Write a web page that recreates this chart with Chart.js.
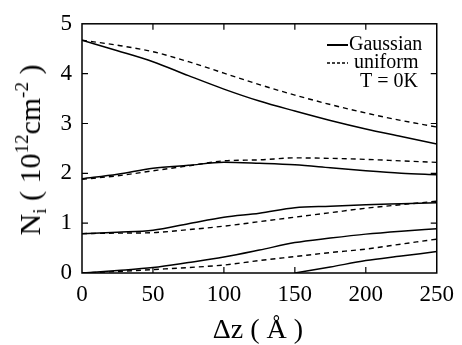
<!DOCTYPE html>
<html>
<head>
<meta charset="utf-8">
<script src="https://cdn.jsdelivr.net/npm/chart.js@4/dist/chart.umd.min.js"></script>
<style>
  html, body { margin: 0; padding: 0; background: #fff; }
  #wrap { position: relative; width: 462px; height: 345px; }
  canvas { display: block; }
  .lbl { position: absolute; font-family: "Liberation Serif", serif; color: #000; white-space: nowrap; }
  #xt { left: 158px; top: 315px; width: 200px; text-align: center; font-size: 28px; line-height: 28px; }
  #yt { left: 30px; top: 150px; font-size: 30px; line-height: 30px; transform: translate(-50%, -50%) rotate(-90deg); }
  #yt sub, #yt sup { font-size: 19px; line-height: 0; }
  #yt sub { vertical-align: -6px; }
  #yt sup { vertical-align: 12px; }
</style>
</head>
<body>
<div id="wrap">
  <canvas id="plot" width="462" height="345"></canvas>
  <div class="lbl" id="yt">N<sub>i</sub> ( 10<sup>12</sup>cm<sup>-2</sup> )</div>
  <div class="lbl" id="xt">&Delta;z ( &Aring; )</div>
</div>
<script>
// delta z in angstrom
const dz = [0, 25, 50, 75, 100, 125, 150, 175, 200, 225, 250];

// subband densities, 10^12 cm^-2
const gauss1 = [4.67, 4.46, 4.24, 3.96, 3.69, 3.45, 3.25, 3.06, 2.89, 2.74, 2.59];
const unif1  = [4.67, 4.57, 4.44, 4.24, 4.01, 3.78, 3.57, 3.38, 3.21, 3.06, 2.93];
const gauss2 = [1.89, 1.98, 2.10, 2.16, 2.22, 2.20, 2.17, 2.11, 2.05, 2.00, 1.97];
const unif2  = [1.88, 1.95, 2.05, 2.15, 2.25, 2.27, 2.31, 2.30, 2.28, 2.25, 2.22];
const gauss3 = [0.79, 0.82, 0.86, 0.99, 1.12, 1.20, 1.31, 1.34, 1.37, 1.39, 1.41];
const unif3  = [0.79, 0.80, 0.81, 0.87, 0.94, 1.03, 1.12, 1.21, 1.30, 1.37, 1.44];
const gauss4 = [0.00, 0.05, 0.11, 0.21, 0.32, 0.46, 0.61, 0.70, 0.78, 0.84, 0.89];
const unif4  = [0.00, 0.03, 0.07, 0.11, 0.16, 0.25, 0.33, 0.41, 0.48, 0.58, 0.68];
const gauss5 = [null, null, null, null, null, null, 0.00, 0.12, 0.25, 0.34, 0.43];

const xTicks = [0, 50, 100, 150, 200, 250];
const yTicks = [0, 1, 2, 3, 4, 5];

const fam = 'Liberation Serif';

function pts(vals) {
  return vals.map((v, i) => ({ x: dz[i], y: v }));
}
function solid(vals) {
  return { data: pts(vals), borderColor: '#000', borderWidth: 1.5, pointRadius: 0,
           cubicInterpolationMode: 'monotone' };
}
function dashed(vals) {
  return { data: pts(vals), borderColor: '#000', borderWidth: 1.4, borderDash: [5, 4],
           pointRadius: 0, cubicInterpolationMode: 'monotone' };
}

// frame, inward ticks and the little key
const decor = {
  id: 'decor',
  afterDraw(chart) {
    const c = chart.ctx, a = chart.chartArea;
    const xs = chart.scales.x, ys = chart.scales.y;
    c.save();
    c.strokeStyle = '#000';
    c.lineWidth = 1.5;
    c.strokeRect(a.left, a.top, a.right - a.left, a.bottom - a.top);
    c.lineWidth = 1.2;
    c.beginPath();
    xTicks.slice(1, -1).forEach(v => {
      const px = xs.getPixelForValue(v);
      c.moveTo(px, a.bottom); c.lineTo(px, a.bottom - 6);
      c.moveTo(px, a.top); c.lineTo(px, a.top + 6);
    });
    yTicks.slice(1, -1).forEach(v => {
      const py = ys.getPixelForValue(v);
      c.moveTo(a.left, py); c.lineTo(a.left + 6, py);
      c.moveTo(a.right, py); c.lineTo(a.right - 6, py);
    });
    c.stroke();

    c.fillStyle = '#000';
    c.font = '20px ' + fam;
    c.textAlign = 'left';
    c.textBaseline = 'middle';
    c.lineWidth = 2;
    c.beginPath(); c.moveTo(327, 45); c.lineTo(348, 45); c.stroke();
    c.fillText('Gaussian', 349, 45);
    c.lineWidth = 1.3;
    c.setLineDash([3, 2]);
    c.beginPath(); c.moveTo(327, 63); c.lineTo(348, 63); c.stroke();
    c.setLineDash([]);
    c.fillText('uniform', 354, 63);
    c.textAlign = 'right';
    c.fillText('T = 0K', 418, 82);
    c.restore();
  }
};

new Chart(document.getElementById('plot'), {
  type: 'line',
  data: {
    datasets: [
      solid(gauss1), dashed(unif1),
      solid(gauss2), dashed(unif2),
      solid(gauss3), dashed(unif3),
      solid(gauss4), dashed(unif4),
      solid(gauss5)
    ]
  },
  options: {
    responsive: false,
    animation: false,
    layout: { padding: { top: 18, right: 21, left: 0, bottom: 0 } },
    plugins: { legend: { display: false }, tooltip: { enabled: false } },
    scales: {
      x: {
        type: 'linear', min: 0, max: 250,
        grid: { display: false, drawTicks: false },
        border: { display: false },
        afterFit(s) { s.height = 72; },
        afterBuildTicks(s) { s.ticks = xTicks.map(v => ({ value: v })); },
        ticks: { color: '#000', padding: 8, maxRotation: 0, font: { family: fam, size: 23 } }
      },
      y: {
        min: 0, max: 5,
        grid: { display: false, drawTicks: false },
        border: { display: false },
        afterFit(s) { s.width = 82; },
        afterBuildTicks(s) { s.ticks = yTicks.map(v => ({ value: v })); },
        ticks: { color: '#000', padding: 10, font: { family: fam, size: 23 } }
      }
    }
  },
  plugins: [decor]
});
</script>
</body>
</html>
